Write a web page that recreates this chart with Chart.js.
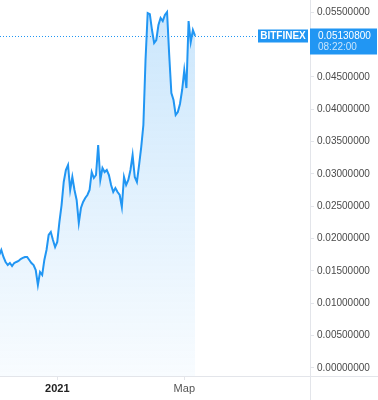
<!DOCTYPE html>
<html><head><meta charset="utf-8">
<script src="https://cdn.jsdelivr.net/npm/chart.js@4"></script>
<style>html,body{margin:0;padding:0;background:#fff}#wrap{width:378px;height:400px;position:relative}</style>
</head><body><div id="wrap"><canvas id="c"></canvas></div>
<script>
// daily closes starting 2020-12-05
const prices = [0.01746,0.01823,0.01715,0.01638,0.01591,0.01622,0.01576,0.01622,0.01638,0.01653,
0.01684,0.01700,0.01715,0.01715,0.01669,0.01622,0.01591,0.01514,0.01282,0.01483,
0.01437,0.01669,0.01823,0.02055,0.02101,0.01978,0.01869,0.01947,0.02256,0.02518,
0.02874,0.03059,0.03136,0.02750,0.02951,0.02750,0.02596,0.02240,0.02472,0.02565,
0.02627,0.02673,0.02750,0.03028,0.02936,0.02982,0.03445,0.02905,0.03090,0.03028,
0.03059,0.02982,0.02827,0.02719,0.02781,0.02719,0.02673,0.02487,0.02951,0.02827,
0.02905,0.03059,0.03291,0.02951,0.02874,0.03136,0.03414,0.03754,0.04759,0.05485,
0.05469,0.05222,0.05021,0.05068,0.05299,0.05408,0.05361,0.05454,0.05500,0.04836,
0.04249,0.04141,0.03909,0.03955,0.04079,0.04295,0.04604,0.04326,0.05361,0.05037,
0.05222,0.051308];
const lastPrice = 0.051308;
const priceText = '0.05130800';
const timeText = '08:22:00';
const exchange = 'BITFINEX';
const xTickValues = [27, 86];
const xTickLabels = ['2021', 'Мар'];
const yTickValues = [0,0.005,0.01,0.015,0.02,0.025,0.03,0.035,0.04,0.045,0.055];
const yMin = -0.00124, yMax = 0.05686;
const xMin = 0.4, xMax = 144.4;

const BLUE = 'rgb(33,150,243)';
const FONT = 'Arial, "Liberation Sans", sans-serif';

const overlay = {
  id: 'overlay',
  afterDraw(chart) {
    const ctx = chart.ctx, a = chart.chartArea;
    ctx.save();
    ctx.strokeStyle = '#e3e5ea'; ctx.lineWidth = 1;
    ctx.beginPath();
    ctx.moveTo(Math.round(a.right) + 0.5, 0); ctx.lineTo(Math.round(a.right) + 0.5, chart.height);
    ctx.moveTo(0, Math.round(a.bottom) + 0.5); ctx.lineTo(chart.width, Math.round(a.bottom) + 0.5);
    ctx.stroke();
    const py = Math.round(chart.scales.y.getPixelForValue(lastPrice)) + 0.5;
    ctx.strokeStyle = BLUE; ctx.setLineDash([1, 2]);
    ctx.beginPath(); ctx.moveTo(0, py); ctx.lineTo(a.right - 52, py); ctx.stroke();
    ctx.setLineDash([]);
    ctx.fillStyle = BLUE;
    ctx.fillRect(a.right - 52, py - 7, 50, 13);
    ctx.fillStyle = '#fff';
    ctx.font = 'bold 10px ' + FONT;
    ctx.textAlign = 'center'; ctx.textBaseline = 'middle';
    ctx.fillText(exchange, a.right - 27, py);
    ctx.fillStyle = BLUE;
    ctx.fillRect(a.right, py - 8, chart.width - a.right - 1, 26);
    ctx.fillStyle = '#fff';
    ctx.textAlign = 'left';
    ctx.font = '10px ' + FONT;
    ctx.fillText(priceText, a.right + 8, py);
    ctx.fillStyle = 'rgba(255,255,255,0.75)';
    ctx.fillText(timeText, a.right + 8, py + 11);
    ctx.restore();
  }
};

new Chart(document.getElementById('c'), {
  type: 'line',
  data: {
    datasets: [{
      data: prices.map((p, i) => ({ x: i, y: p })),
      borderColor: BLUE,
      borderWidth: 2,
      pointRadius: 0,
      tension: 0,
      fill: 'start',
      backgroundColor(ctx) {
        const a = ctx.chart.chartArea;
        if (!a) return 'rgba(33,150,243,0.15)';
        const g = ctx.chart.ctx.createLinearGradient(0, a.top, 0, a.bottom);
        g.addColorStop(0, 'rgba(33,150,243,0.24)');
        g.addColorStop(1, 'rgba(33,150,243,0.03)');
        return g;
      }
    }]
  },
  options: {
    responsive: true, maintainAspectRatio: false, animation: false,
    layout: { padding: 0 },
    plugins: { legend: { display: false }, tooltip: { enabled: false } },
    scales: {
      x: {
        type: 'linear', min: xMin, max: xMax,
        afterBuildTicks(s) { s.ticks = xTickValues.map(v => ({ value: v })); },
        afterFit(s) { s.height = 24; s.paddingLeft = 0; s.paddingRight = 0; },
        border: { display: false },
        grid: { drawOnChartArea: false, drawTicks: true, tickLength: 4, color: '#e3e5ea' },
        ticks: {
          autoSkip: false, maxRotation: 0, padding: 2,
          callback(v) { const k = xTickValues.indexOf(v); return k >= 0 ? xTickLabels[k] : ''; },
          color(c) { return c.index === 0 ? '#222' : '#555'; },
          font(c) { return { family: FONT, size: 11, weight: c.index === 0 ? 'bold' : 'normal' }; }
        }
      },
      y: {
        position: 'right', min: yMin, max: yMax,
        afterBuildTicks(s) { s.ticks = yTickValues.map(v => ({ value: v })); },
        afterFit(s) { s.width = 68; s.paddingTop = 0; s.paddingBottom = 0; },
        border: { display: false },
        grid: { drawOnChartArea: false, drawTicks: true, tickLength: 4, color: '#e3e5ea' },
        ticks: {
          padding: 3, color: '#4a4a4a',
          font: { family: FONT, size: 10 },
          callback(v) { return Number(v).toFixed(8); }
        }
      }
    }
  },
  plugins: [overlay]
});
</script></body></html>
